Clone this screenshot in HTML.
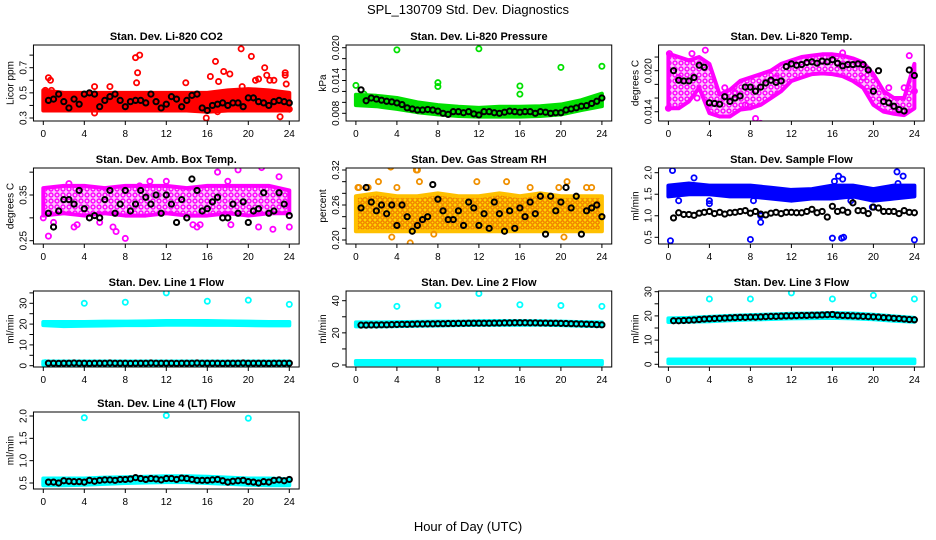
<!DOCTYPE html>
<html><head><meta charset="utf-8"><style>
body{margin:0;background:#fff}
svg{display:block;font-family:"Liberation Sans",sans-serif}
</style></head><body>
<svg id="c" width="936" height="540" viewBox="0 0 936 540">
<defs>
<pattern id="pm" width="6" height="6" patternUnits="userSpaceOnUse"><rect width="6" height="6" fill="#fbc8fb"/><circle cx="3" cy="3" r="2" fill="none" stroke="#ff00ff" stroke-width="1.4"/></pattern>
<pattern id="po" width="5" height="5" patternUnits="userSpaceOnUse"><rect width="5" height="5" fill="#ffd800"/><circle cx="2.5" cy="2.5" r="1.7" fill="none" stroke="#f07800" stroke-width="1.3"/></pattern>
</defs>
<text x="468" y="14" text-anchor="middle" font-size="13">SPL_130709  Std. Dev. Diagnostics</text>
<text x="468" y="531" text-anchor="middle" font-size="13">Hour of Day (UTC)</text>
</svg>
<script>
const bandHours2=[0,2,4,6,8,10,12,14,16,18,20,22,24];
const bandHours1=[0,1,2,3,4,5,6,7,8,9,10,11,12,13,14,15,16,17,18,19,20,21,22,23,24];
const blackHours=[0.5,1,1.5,2,2.5,3,3.5,4,4.5,5,5.5,6,6.5,7,7.5,8,8.5,9,9.5,10,10.5,11,11.5,12,12.5,13,13.5,14,14.5,15,15.5,16,16.5,17,17.5,18,18.5,19,19.5,20,20.5,21,21.5,22,22.5,23,23.5,24];
const xTicks=[0,4,8,12,16,20,24];

const co2Lo=[0.36,0.36,0.36,0.36,0.36,0.36,0.36,0.36,0.35,0.36,0.36,0.36,0.36];
const co2Hi=[0.52,0.5,0.5,0.5,0.5,0.5,0.5,0.5,0.5,0.52,0.53,0.52,0.5];
const co2Out=[[0.2,0.52],[0.5,0.62],[0.7,0.6],[9,0.78],[9.2,0.66],[9.1,0.58],[9.4,0.8],[13.9,0.58],[15.9,0.3],[16.3,0.63],[16.8,0.75],[17.1,0.59],[17.6,0.67],[18.2,0.65],[19.3,0.85],[19.4,0.55],[20.3,0.79],[20.7,0.6],[21,0.61],[21.6,0.7],[21.8,0.64],[22.1,0.6],[22.5,0.6],[23.1,0.31],[23.6,0.66],[23.6,0.64],[23.7,0.57],[24,0.37],[0.8,0.52],[5,0.55],[6.5,0.55],[5,0.34],[17,0.35]];
const co2Black=[0.44,0.45,0.49,0.43,0.38,0.45,0.41,0.49,0.5,0.49,0.39,0.44,0.47,0.49,0.44,0.39,0.43,0.44,0.44,0.42,0.49,0.43,0.38,0.41,0.47,0.45,0.39,0.44,0.48,0.49,0.38,0.36,0.4,0.41,0.42,0.4,0.42,0.42,0.39,0.46,0.46,0.43,0.42,0.4,0.43,0.44,0.43,0.42];

const presLo=[0.0095,0.0093,0.0088,0.0082,0.0078,0.0075,0.0074,0.0074,0.0074,0.0075,0.0078,0.0086,0.0093];
const presHi=[0.0114,0.0112,0.0108,0.0100,0.0095,0.0092,0.0090,0.0092,0.0092,0.0093,0.0096,0.0104,0.0116];
const presOut=[[0,0.0131],[4,0.0196],[8,0.0136],[8,0.0129],[12,0.0198],[16,0.013],[16,0.0115],[20,0.0164],[24,0.0166],[0.8,0.0115]];
const presBlack=[0.0123,0.0103,0.0108,0.0106,0.0104,0.0102,0.0101,0.0099,0.0096,0.0090,0.0088,0.0086,0.0086,0.0087,0.0086,0.0084,0.0080,0.0078,0.0083,0.0083,0.0081,0.0083,0.0079,0.0077,0.0083,0.0083,0.0081,0.0080,0.0082,0.0084,0.0083,0.0082,0.0083,0.0083,0.0080,0.0083,0.0082,0.0080,0.0081,0.0081,0.0086,0.0088,0.0090,0.0093,0.0094,0.0098,0.0102,0.0108];

const tempLo=[0.0145,0.0145,0.0155,0.0175,0.0138,0.0133,0.0133,0.0143,0.0145,0.0150,0.0160,0.0170,0.0185,0.0190,0.0195,0.0196,0.0195,0.0192,0.0185,0.0175,0.0150,0.0140,0.0137,0.0135,0.0145];
const tempHi=[0.0225,0.0220,0.0215,0.0220,0.0210,0.0165,0.0172,0.0185,0.0190,0.0195,0.0200,0.0210,0.0215,0.0220,0.0222,0.0224,0.0224,0.0222,0.0218,0.0212,0.0195,0.0170,0.0160,0.0160,0.0210];
const tempOut=[[0,0.0145],[0.1,0.0225],[2.3,0.0225],[3.6,0.0230],[8,0.0147],[8.5,0.0130],[9,0.0123],[17,0.0226],[19.5,0.0170],[23.5,0.0222],[24,0.0170],[1,0.0190],[2.8,0.0160],[5.5,0.0175],[6.5,0.0168],[7.5,0.0150],[10.5,0.0190],[19,0.0190],[21.5,0.0175],[23,0.0175]];
const tempBlack=[0.0200,0.0186,0.0185,0.0185,0.0190,0.0208,0.0205,0.0153,0.0152,0.0151,0.0162,0.0155,0.0160,0.0163,0.0176,0.0176,0.0170,0.0176,0.0182,0.0186,0.0183,0.0185,0.0206,0.0210,0.0208,0.0209,0.0212,0.0213,0.0211,0.0214,0.0213,0.0216,0.0211,0.0207,0.0209,0.0209,0.0210,0.0209,0.0201,0.0170,0.0200,0.0155,0.0153,0.0148,0.0143,0.0141,0.0201,0.0193];

const ambLo=[0.305,0.31,0.305,0.31,0.305,0.305,0.31,0.305,0.305,0.31,0.305,0.31,0.31];
const ambHi=[0.365,0.37,0.37,0.365,0.37,0.37,0.37,0.365,0.37,0.37,0.37,0.37,0.36];
const ambOut=[[0,0.3],[0.5,0.26],[1,0.29],[3,0.28],[3.3,0.285],[5.5,0.29],[6.8,0.28],[7.1,0.27],[8,0.255],[9.4,0.37],[12,0.38],[14.6,0.285],[15,0.28],[15.3,0.285],[17,0.40],[18.3,0.285],[18,0.38],[19,0.405],[21,0.28],[21.3,0.41],[22.4,0.275],[23,0.39],[24,0.28],[10.4,0.38],[21.2,0.42],[2.5,0.375]];
const ambBlack=[0.31,0.28,0.315,0.34,0.34,0.33,0.36,0.32,0.30,0.305,0.30,0.34,0.36,0.31,0.33,0.36,0.315,0.33,0.36,0.345,0.33,0.35,0.31,0.35,0.33,0.29,0.34,0.30,0.385,0.36,0.315,0.32,0.335,0.345,0.30,0.30,0.33,0.31,0.335,0.29,0.315,0.32,0.355,0.31,0.315,0.355,0.33,0.305];

const rhLo=[0.215,0.215,0.215,0.215,0.215,0.215,0.215,0.215,0.215,0.215,0.215,0.215,0.215];
const rhHi=[0.275,0.28,0.275,0.275,0.28,0.275,0.275,0.28,0.275,0.28,0.275,0.275,0.275];
const rhOut=[[0.2,0.29],[1.2,0.29],[2.2,0.30],[3.4,0.325],[3.5,0.205],[4,0.29],[5.3,0.195],[5.9,0.32],[6.2,0.3],[7.6,0.21],[11.8,0.30],[14.7,0.30],[17,0.29],[19.8,0.29],[20.3,0.205],[20.6,0.30],[22.5,0.29],[23,0.29],[0.3,0.29],[6,0.32]];
const rhBlack=[0.255,0.29,0.265,0.25,0.26,0.245,0.26,0.225,0.26,0.24,0.215,0.225,0.235,0.24,0.295,0.27,0.25,0.235,0.235,0.25,0.225,0.265,0.255,0.225,0.245,0.22,0.265,0.245,0.215,0.25,0.22,0.255,0.24,0.265,0.245,0.275,0.21,0.275,0.25,0.265,0.29,0.255,0.275,0.21,0.25,0.255,0.26,0.24];

const flowLo=[1.45,1.5,1.5,1.45,1.45,1.4,1.35,1.4,1.4,1.45,1.35,1.4,1.45];
const flowHi=[1.7,1.75,1.7,1.7,1.7,1.65,1.6,1.62,1.7,1.7,1.62,1.7,1.7];
const flowOut=[[0.2,0.42],[0.4,2.05],[1,1.35],[2.5,1.88],[4,1.28],[4,1.35],[8,0.45],[8.3,1.35],[9,0.85],[9,1.0],[16,0.48],[16.9,0.48],[17.1,0.5],[16.6,1.92],[17,1.85],[16.2,1.8],[22.3,2.02],[22.9,1.92],[22.4,1.75],[24,0.44],[17.8,1.35],[19.9,1.2]];
const flowBlack=[0.95,1.07,1.03,1.03,1.01,1.06,1.08,1.1,1.05,1.08,1.04,1.07,1.08,1.1,1.12,1.06,1.1,1.04,1.02,1.06,1.08,1.05,1.08,1.08,1.07,1.07,1.1,1.15,1.07,1.1,0.97,1.22,1.1,1.13,1.08,1.3,1.12,1.12,1.05,1.2,1.18,1.1,1.1,1.1,1.05,1.12,1.08,1.07];

const line1Lo=[19.5,19,19.2,19.3,19.5,19.5,19.7,19.7,19.6,19.6,19.5,19.4,19.4];
const line1Hi=[21,21,21,21.2,21.2,21.3,21.5,21.5,21.5,21.3,21.2,21,21];
const line1BaseLo=[0.5,0.5,0.5,0.5,0.5,0.5,0.5,0.5,0.5,0.5,0.5,0.5,0.5];
const line1BaseHi=[2,2,2,2,2,2,2,2,2,2,2,2,2];
const line1Out=[[4,30],[8,30.5],[12,35],[16,31],[20,31.5],[24,29.5],[0.2,1.5]];
const line1Black=[1.2,1.2,1.1,1.2,1.2,1.3,1.2,1.2,1.1,1.2,1.2,1.2,1.3,1.2,1.2,1.2,1.1,1.2,1.2,1.2,1.3,1.2,1.2,1.2,1.2,1.1,1.2,1.2,1.2,1.3,1.2,1.2,1.2,1.2,1.1,1.2,1.2,1.2,1.3,1.2,1.2,1.2,1.2,1.1,1.2,1.2,1.2,1.2];

const line2Lo=[24,24,24.2,24.4,24.6,24.8,25,25,25,25,24.8,24.4,24.2];
const line2Hi=[26.5,26.5,26.7,26.8,27,27,27.2,27.3,27.3,27.2,27,26.7,26.5];
const line2BaseLo=[0.5,0.5,0.5,0.5,0.5,0.5,0.5,0.5,0.5,0.5,0.5,0.5,0.5];
const line2BaseHi=[2.5,2.5,2.5,2.5,2.5,2.5,2.5,2.5,2.5,2.5,2.5,2.5,2.5];
const line2Out=[[4,36.5],[8,37],[12,44.5],[16,37.5],[20,37],[24,36.5]];
const line2Black=[24.8,24.8,24.9,24.9,25,25,25.1,25.2,25.3,25.3,25.4,25.5,25.5,25.6,25.6,25.7,25.7,25.8,25.8,25.9,25.9,26,26,26,26,26,26.1,26.1,26.2,26.2,26.3,26.3,26.3,26.2,26.2,26.1,26.1,26,26,25.9,25.8,25.7,25.6,25.5,25.4,25.3,25.1,25];

const line3Lo=[17.5,17.6,17.8,18.2,18.5,18.7,19,19.1,19.2,19,18.6,18,17.6];
const line3Hi=[19,19.2,19.6,20,20.3,20.6,20.9,21,21.2,21,20.5,19.8,19.2];
const line3BaseLo=[0.5,0.5,0.5,0.5,0.5,0.5,0.5,0.5,0.5,0.5,0.5,0.5,0.5];
const line3BaseHi=[2,2,2,2,2,2,2,2,2,2,2,2,2];
const line3Out=[[4,27],[8,27],[12,29.5],[16,27],[20,28.5],[24,27]];
const line3Black=[18,18,18.1,18.2,18.3,18.5,18.7,18.8,18.9,19,19.1,19.2,19.3,19.4,19.4,19.5,19.5,19.6,19.7,19.8,19.8,19.9,20,20,20.1,20.2,20.2,20.3,20.3,20.4,20.5,20.6,20.3,20.2,20.1,20,19.9,19.8,19.7,19.6,19.5,19.3,19.2,19,18.9,18.7,18.5,18.4];

const line4Lo=[0.45,0.45,0.46,0.48,0.5,0.51,0.52,0.52,0.5,0.48,0.46,0.45,0.45];
const line4Hi=[0.6,0.6,0.6,0.62,0.63,0.64,0.65,0.65,0.64,0.62,0.6,0.6,0.58];
const line4Out=[[4,1.96],[12,2.01],[20,1.95]];
const line4Black=[0.52,0.52,0.5,0.55,0.54,0.53,0.53,0.52,0.56,0.54,0.56,0.57,0.57,0.56,0.58,0.58,0.59,0.62,0.6,0.58,0.6,0.59,0.57,0.6,0.6,0.58,0.61,0.6,0.58,0.56,0.56,0.56,0.57,0.58,0.55,0.52,0.54,0.55,0.56,0.53,0.52,0.5,0.53,0.52,0.56,0.57,0.55,0.58];

const co2Ticks=[0.3,0.4,0.5,0.6,0.7,0.8], co2Labels=["0.3","","0.5","","0.7",""];
const presTicks=[0.008,0.010,0.012,0.014,0.016,0.018,0.020], presLabels=["0.008","","","0.014","","","0.020"];
const tempTicks=[0.014,0.016,0.018,0.020,0.022], tempLabels=["0.014","","","0.020",""];
const ambTicks=[0.25,0.30,0.35,0.40], ambLabels=["0.25","","0.35",""];
const rhTicks=[0.20,0.22,0.24,0.26,0.28,0.30,0.32], rhLabels=["0.20","","","0.26","","","0.32"];
const flowTicks=[0.5,1.0,1.5,2.0], flowLabels=["0.5","1.0","1.5","2.0"];
const l1Ticks=[0,5,10,15,20,25,30,35], l1Labels=["0","","10","","20","","30",""];
const l2Ticks=[0,10,20,30,40], l2Labels=["0","","20","","40"];
const l3Ticks=[0,5,10,15,20,25,30], l3Labels=["0","","10","","20","","30"];
const l4Ticks=[0.5,1.0,1.5,2.0], l4Labels=["0.5","1.0","1.5","2.0"];

const NS="http://www.w3.org/2000/svg";
const svg=document.getElementById('c');
function mk(tag,at,parent){const e=document.createElementNS(NS,tag);for(const k in at)e.setAttribute(k,at[k]);(parent||svg).appendChild(e);return e;}
const rowTop=[45,168,291,412], rowBot=[121,244,367,489];
const colX0=[43.3,355.9,668.4], PXH=10.25;

function panel(o){
  const g=mk('g',{});
  
  
  const x0=colX0[o.c], top=rowTop[o.r], bot=rowBot[o.r];
  const X=h=>x0+h*PXH;
  const k=(o.a[3]-o.a[1])/(o.a[2]-o.a[0]);
  const Y=v=>o.a[1]+(v-o.a[0])*k;
  const left=X(-0.96), right=X(24.96);
  const cp='cp'+o.name; const clip=mk('clipPath',{id:cp},g); mk('rect',{x:left,y:top,width:right-left,height:bot-top},clip);
  const plot=mk('g',{'clip-path':'url(#'+cp+')'},g);
  (o.bands||[]).forEach(b=>{
    let pts=b.h.map((h,i)=>X(h)+','+Y(b.hi[i]));
    pts=pts.concat(b.h.map((h,i)=>X(h)+','+Y(b.lo[i])).reverse());
    const p=mk('polygon',{points:pts.join(' '),fill:b.fill,stroke:b.stroke,'stroke-width':4,'stroke-linejoin':'round'},plot);
    
    
  });
  (o.out||[]).forEach(d=>{
    const c=mk('circle',{cx:X(d[0]),cy:Y(d[1]),r:2.6,fill:'none',stroke:o.col,'stroke-width':1.8},plot);
    
    
  });
  o.black.forEach((v,i)=>{
    const c=mk('circle',{cx:X(blackHours[i]),cy:Y(v),r:2.6,fill:'none',stroke:'#000','stroke-width':2},plot);
    
    
  });
  const box=mk('rect',{x:left,y:top,width:right-left,height:bot-top,fill:'none',stroke:'#000','stroke-width':1},g);
  
  
  const t=mk('text',{x:(left+right)/2,y:top-5,'text-anchor':'middle','font-size':11,'font-weight':'bold'},g);
  t.textContent=o.title;
  
  
  xTicks.forEach(h=>{
    mk('line',{x1:X(h),x2:X(h),y1:bot,y2:bot+4,stroke:'#000'},g);
    const l=mk('text',{x:X(h),y:bot+16,'text-anchor':'middle','font-size':10},g);
    l.textContent=h;
    
    
  });
  mk('line',{x1:X(0),x2:X(24),y1:bot,y2:bot,stroke:'#000'},g);
  o.ticks.forEach((v,i)=>{
    mk('line',{x1:left,x2:left-4,y1:Y(v),y2:Y(v),stroke:'#000'},g);
    if(o.labels[i]){
      const l=mk('text',{x:0,y:0,'text-anchor':'middle','font-size':10,transform:'translate('+(left-7)+','+Y(v)+') rotate(-90)'},g);
      l.textContent=o.labels[i];
      
      
    }
  });
  const yl=mk('text',{x:0,y:0,'text-anchor':'middle','font-size':10,transform:'translate('+(left-20)+','+((top+bot)/2)+') rotate(-90)'},g);
  yl.textContent=o.ylab;
  
  
}
const RED='#ff0000',GRN='#00e000',MAG='#ff00ff',BLU='#0000ff',CYA='#00ffff';
panel({name:'panel-co2',r:0,c:0,title:'Stan. Dev. Li-820 CO2',ylab:'Licor ppm',a:[0.3,118,0.7,67.7],ticks:co2Ticks,labels:co2Labels,col:RED,bands:[{h:bandHours2,lo:co2Lo,hi:co2Hi,fill:RED,stroke:RED}],out:co2Out,black:co2Black});
panel({name:'panel-pressure',r:0,c:1,title:'Stan. Dev. Li-820 Pressure',ylab:'kPa',a:[0.008,113.3,0.020,47.7],ticks:presTicks,labels:presLabels,col:GRN,bands:[{h:bandHours2,lo:presLo,hi:presHi,fill:GRN,stroke:GRN}],out:presOut,black:presBlack});
panel({name:'panel-temp',r:0,c:2,title:'Stan. Dev. Li-820 Temp.',ylab:'degrees C',a:[0.014,111.7,0.020,70.7],ticks:tempTicks,labels:tempLabels,col:MAG,bands:[{h:bandHours1,lo:tempLo,hi:tempHi,fill:'url(#pm)',stroke:MAG}],out:tempOut,black:tempBlack});
panel({name:'panel-ambbox',r:1,c:0,title:'Stan. Dev. Amb. Box Temp.',ylab:'degrees C',a:[0.25,240.7,0.35,195],ticks:ambTicks,labels:ambLabels,col:MAG,bands:[{h:bandHours2,lo:ambLo,hi:ambHi,fill:'url(#pm)',stroke:MAG}],out:ambOut,black:ambBlack});
panel({name:'panel-rh',r:1,c:1,title:'Stan. Dev. Gas Stream RH',ylab:'percent',a:[0.20,240,0.32,170],ticks:rhTicks,labels:rhLabels,col:'#f09000',bands:[{h:bandHours2,lo:rhLo,hi:rhHi,fill:'url(#po)',stroke:'#ffc000'}],out:rhOut,black:rhBlack});
panel({name:'panel-sampleflow',r:1,c:2,title:'Stan. Dev. Sample Flow',ylab:'ml/min',a:[0.5,237.3,2.0,172.7],ticks:flowTicks,labels:flowLabels,col:BLU,bands:[{h:bandHours2,lo:flowLo,hi:flowHi,fill:BLU,stroke:BLU}],out:flowOut,black:flowBlack});
panel({name:'panel-line1',r:2,c:0,title:'Stan. Dev. Line 1 Flow',ylab:'ml/min',a:[0,365.7,30,303.3],ticks:l1Ticks,labels:l1Labels,col:CYA,bands:[{h:bandHours2,lo:line1Lo,hi:line1Hi,fill:CYA,stroke:CYA},{h:bandHours2,lo:line1BaseLo,hi:line1BaseHi,fill:CYA,stroke:CYA}],out:line1Out,black:line1Black});
panel({name:'panel-line2',r:2,c:1,title:'Stan. Dev. Line 2 Flow',ylab:'ml/min',a:[0,365,40,300.7],ticks:l2Ticks,labels:l2Labels,col:CYA,bands:[{h:bandHours2,lo:line2Lo,hi:line2Hi,fill:CYA,stroke:CYA},{h:bandHours2,lo:line2BaseLo,hi:line2BaseHi,fill:CYA,stroke:CYA}],out:line2Out,black:line2Black});
panel({name:'panel-line3',r:2,c:2,title:'Stan. Dev. Line 3 Flow',ylab:'ml/min',a:[0,364.3,30,291.7],ticks:l3Ticks,labels:l3Labels,col:CYA,bands:[{h:bandHours2,lo:line3Lo,hi:line3Hi,fill:CYA,stroke:CYA},{h:bandHours2,lo:line3BaseLo,hi:line3BaseHi,fill:CYA,stroke:CYA}],out:line3Out,black:line3Black});
panel({name:'panel-line4',r:3,c:0,title:'Stan. Dev. Line 4 (LT) Flow',ylab:'ml/min',a:[0.5,483,2.0,416],ticks:l4Ticks,labels:l4Labels,col:CYA,bands:[{h:bandHours2,lo:line4Lo,hi:line4Hi,fill:CYA,stroke:CYA}],out:line4Out,black:line4Black});
</script>
</body></html>
